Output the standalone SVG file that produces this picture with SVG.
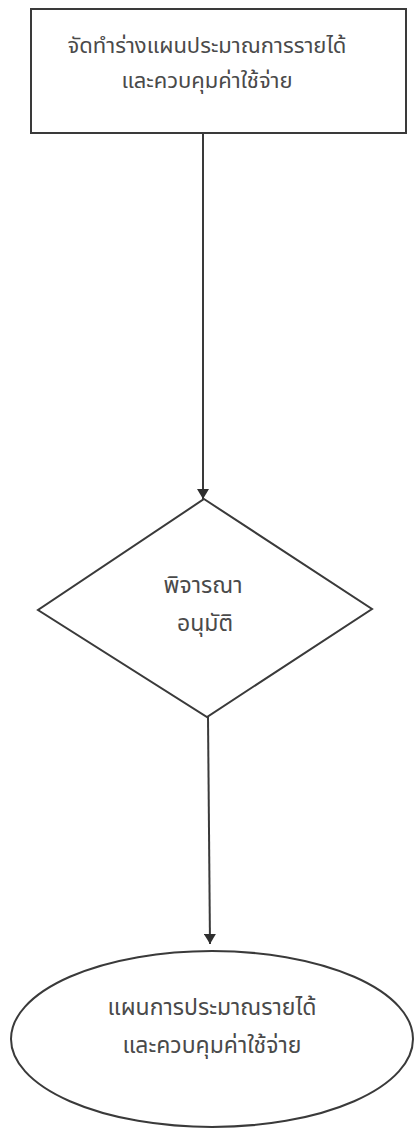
<svg xmlns="http://www.w3.org/2000/svg" width="416" height="1129" viewBox="0 0 416 1129">
  <defs>
    <style>
      .shape { fill: #ffffff; stroke: #3a3a3a; stroke-width: 2; }
      .conn { fill: none; stroke: #3a3a3a; stroke-width: 2; }
      .label { font-family: "Noto Sans Thai", "Noto Sans", "DejaVu Sans", sans-serif; font-size: 22px; fill: #4a4a4a; text-anchor: middle; }
      .big { font-size: 23px; }
    </style>
    <marker id="arrow" viewBox="0 0 10 12" refX="10" refY="6" markerWidth="10" markerHeight="12" markerUnits="userSpaceOnUse" orient="auto">
      <path d="M0,0 L10,6 L0,12 Z" fill="#2e2e2e"/>
    </marker>
  </defs>
  <rect width="416" height="1129" fill="#ffffff"/>
  <g id="connectors">
    <line class="conn" x1="203" y1="133" x2="203" y2="499" marker-end="url(#arrow)"/>
    <line class="conn" x1="208" y1="717" x2="210" y2="944" marker-end="url(#arrow)"/>
  </g>
  <g id="node-draft">
    <rect class="shape" x="31" y="9" width="375" height="124"/>
    <text class="label" x="207" y="53">จัดทำร่างแผนประมาณการรายได้</text>
    <text class="label" x="207" y="88">และควบคุมค่าใช้จ่าย</text>
  </g>
  <g id="node-approve">
    <polygon class="shape" points="204,499 372,609 207,717 38,610"/>
    <text class="label big" x="203" y="593">พิจารณา</text>
    <text class="label big" x="205" y="631">อนุมัติ</text>
  </g>
  <g id="node-plan">
    <ellipse class="shape" cx="212" cy="1039" rx="201" ry="88"/>
    <text class="label big" x="212" y="1015">แผนการประมาณรายได้</text>
    <text class="label big" x="212" y="1053">และควบคุมค่าใช้จ่าย</text>
  </g>
</svg>
